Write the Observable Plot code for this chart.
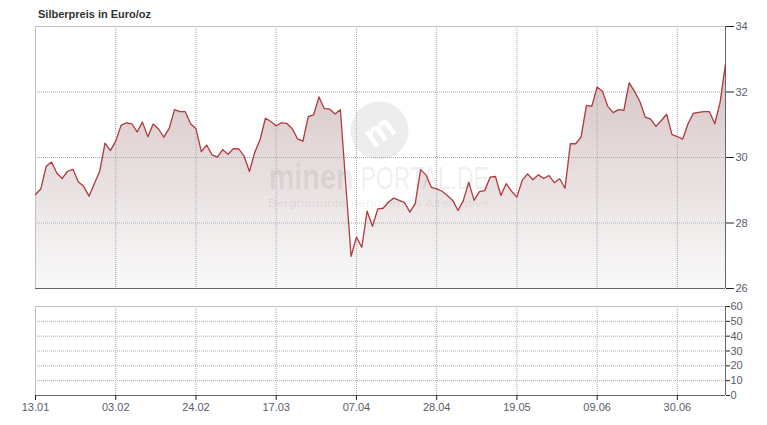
<!DOCTYPE html>
<html>
<head>
<meta charset="utf-8">
<script src="https://cdn.jsdelivr.net/npm/d3@7"></script>
<script src="https://cdn.jsdelivr.net/npm/@observablehq/plot@0.6"></script>
<style>
  body { margin: 0; background: #fff; position: relative; }
  #title { position: absolute; top: 0; left: 0; height: 22px; box-sizing: border-box; padding: 8px 0 0 38px; font: bold 11px/13px "Liberation Sans", Arial, sans-serif; color: #333; white-space: nowrap; }
</style>
</head>
<body>
<div id="chart"></div>
<div id="title">Silberpreis in Euro/oz</div>
<script>
// Silver price in EUR/oz, one value per trading day starting 13.01
const values = [
  28.87, 29.04, 29.73, 29.86, 29.52, 29.36, 29.58, 29.64, 29.26, 29.12,
  28.82, 29.20, 29.58, 30.44, 30.21, 30.50, 30.98, 31.06, 31.03, 30.78,
  31.08, 30.63, 31.02, 30.87, 30.62, 30.89, 31.46, 31.40, 31.40, 31.03,
  30.88, 30.18, 30.38, 30.08, 30.01, 30.24, 30.10, 30.27, 30.26, 30.04,
  29.57, 30.16, 30.55, 31.20, 31.10, 30.97, 31.06, 31.04, 30.88, 30.57,
  30.50, 31.25, 31.30, 31.85, 31.49, 31.48, 31.33, 31.46, 29.20, 26.98,
  27.57, 27.26, 28.36, 27.90, 28.43, 28.45, 28.64, 28.76, 28.69, 28.62,
  28.33, 28.59, 29.63, 29.47, 29.09, 29.04, 28.97, 28.84, 28.69, 28.38,
  28.69, 29.25, 28.69, 28.96, 28.99, 29.40, 29.42, 28.84, 29.20, 28.97,
  28.79, 29.30, 29.50, 29.32, 29.47, 29.36, 29.45, 29.23, 29.35, 29.06,
  30.42, 30.42, 30.62, 31.59, 31.56, 32.15, 32.02, 31.56, 31.37, 31.46,
  31.44, 32.28, 32.02, 31.71, 31.23, 31.17, 30.95, 31.13, 31.32, 30.70,
  30.64, 30.56, 31.03, 31.35, 31.38, 31.40, 31.40, 31.03, 31.69, 32.86
];
const startDate = [2025, 0, 13];
const tickLabels = ["13.01", "03.02", "24.02", "17.03", "07.04", "28.04", "19.05", "09.06", "30.06"];
const yTicks = [26, 28, 30, 32, 34];
const volTicks = [0, 10, 20, 30, 40, 50, 60];
const watermark = ["minen", "PORTAL.DE", "Bergbauunternehmen als Alternative"];

// trading-day labels (weekdays)
const dates = [];
{
  const d = new Date(Date.UTC(...startDate));
  while (dates.length < values.length) {
    const wd = d.getUTCDay();
    if (wd !== 0 && wd !== 6) {
      dates.push(String(d.getUTCDate()).padStart(2, "0") + "." + String(d.getUTCMonth() + 1).padStart(2, "0"));
    }
    d.setUTCDate(d.getUTCDate() + 1);
  }
}
const data = values.map((v, i) => ({i, v, date: dates[i]}));
const tickIdx = tickLabels.map(l => dates.indexOf(l));
const n = values.length;
const yMin = yTicks[0], yMax = yTicks[yTicks.length - 1];
const vMin = volTicks[0], vMax = volTicks[volTicks.length - 1];

const font = "'Liberation Sans', Arial, sans-serif";
const labelColor = "#56606c";
const grid = {stroke: "#aaa", strokeDasharray: "1,1"};

const main = Plot.plot({
  width: 767, height: 296,
  marginTop: 26, marginBottom: 8, marginLeft: 35, marginRight: 42,
  x: {domain: [0, n - 1], axis: null},
  y: {domain: [yMin, yMax], axis: null},
  style: {fontFamily: font, fontSize: "11px", background: "transparent"},
  marks: [
    Plot.areaY(data, {x: "i", y1: () => yMin, y2: "v", fill: "url(#silverGrad)"}),
    // watermark
    Plot.dot([0], {x: null, y: null, frameAnchor: "middle", dx: -1, dy: -27, r: 29, fill: "#000", fillOpacity: 0.07, stroke: "none"}),
    Plot.text(["m"], {frameAnchor: "middle", dx: -1, dy: -26, fontSize: 34, fontWeight: "bold", fill: "#fff", rotate: -35, fontFamily: font}),
    Plot.text([watermark[0]], {frameAnchor: "middle", dx: -27, dy: 31, lineAnchor: "bottom", textAnchor: "end", fontSize: 36, fontWeight: "bold", fill: "#000", fillOpacity: 0.08, fontFamily: font}),
    Plot.text([watermark[1]], {frameAnchor: "middle", dx: -20, dy: 31, lineAnchor: "bottom", textAnchor: "start", fontSize: 32, fill: "#000", fillOpacity: 0.08, fontFamily: font}),
    Plot.text([watermark[2]], {frameAnchor: "middle", dx: -113, dy: 49, lineAnchor: "bottom", textAnchor: "start", fontSize: 11, fill: "#000", fillOpacity: 0.08, fontFamily: font}),
    // grid
    Plot.ruleY(yTicks.slice(1, -1), grid),
    Plot.ruleX(tickIdx.slice(1), grid),
    // frame
    Plot.ruleY([yMax], {stroke: "#c0c0c0"}),
    Plot.ruleX([0], {stroke: "#c0c0c0"}),
    Plot.ruleY([yMin], {stroke: "#666"}),
    Plot.ruleX([n - 1], {stroke: "#666"}),
    Plot.axisY(yTicks, {anchor: "right", tickSize: 8, tickPadding: 2, stroke: "#222", fill: labelColor, label: null, fontSize: 11}),
    Plot.lineY(data, {x: "i", y: "v", stroke: "#b03a3e", strokeWidth: 1.3})
  ]
});

// gradient defs + watermark styling
{
  const ns = "http://www.w3.org/2000/svg";
  const defs = document.createElementNS(ns, "defs");
  const lg = document.createElementNS(ns, "linearGradient");
  lg.setAttribute("id", "silverGrad");
  lg.setAttribute("x1", "0"); lg.setAttribute("y1", "0");
  lg.setAttribute("x2", "0"); lg.setAttribute("y2", "1");
  [["0", "#d6c4c4"], ["1", "#f9f9f9"]].forEach(([o, c]) => {
    const s = document.createElementNS(ns, "stop");
    s.setAttribute("offset", o); s.setAttribute("stop-color", c);
    lg.appendChild(s);
  });
  defs.appendChild(lg);
  main.insertBefore(defs, main.firstChild);
  const squeeze = (t, sx) => {
    const tr = t.getAttribute("transform");
    if (tr) t.setAttribute("transform", tr + ` scale(${sx},1)`);
    else {
      const x = +(t.getAttribute("x") || 0);
      t.setAttribute("x", x / sx);
      t.setAttribute("transform", `scale(${sx},1)`);
    }
  };
  main.querySelectorAll("text").forEach(t => {
    const s = t.textContent;
    if (s === watermark[0]) squeeze(t, 0.8);
    if (s === watermark[1]) squeeze(t, 0.72);
    if (s === watermark[2]) { t.setAttribute("textLength", 222); t.setAttribute("lengthAdjust", "spacingAndGlyphs"); }
  });
}

const vol = Plot.plot({
  width: 767, height: 129,
  marginTop: 10, marginBottom: 30, marginLeft: 35, marginRight: 42,
  x: {domain: [0, n - 1], axis: null},
  y: {domain: [vMin, vMax], axis: null},
  style: {fontFamily: font, fontSize: "11px", background: "transparent"},
  marks: [
    Plot.ruleY(volTicks.slice(1, -1), grid),
    Plot.ruleX(tickIdx.slice(1), grid),
    Plot.ruleY([vMax], {stroke: "#c0c0c0"}),
    Plot.ruleX([0], {stroke: "#c0c0c0"}),
    Plot.ruleY([vMin], {stroke: "#666"}),
    Plot.ruleX([n - 1], {stroke: "#666"}),
    Plot.axisY(volTicks, {anchor: "right", tickSize: 4, tickPadding: 1, stroke: "#222", fill: labelColor, label: null, fontSize: 11}),
    Plot.axisX(tickIdx, {anchor: "bottom", tickSize: 5, tickPadding: 3, stroke: "#222", fill: labelColor, label: null, fontSize: 11, tickFormat: i => dates[i]})
  ]
});

const chart = document.getElementById("chart");
chart.appendChild(main);
chart.appendChild(vol);
</script>
</body>
</html>
